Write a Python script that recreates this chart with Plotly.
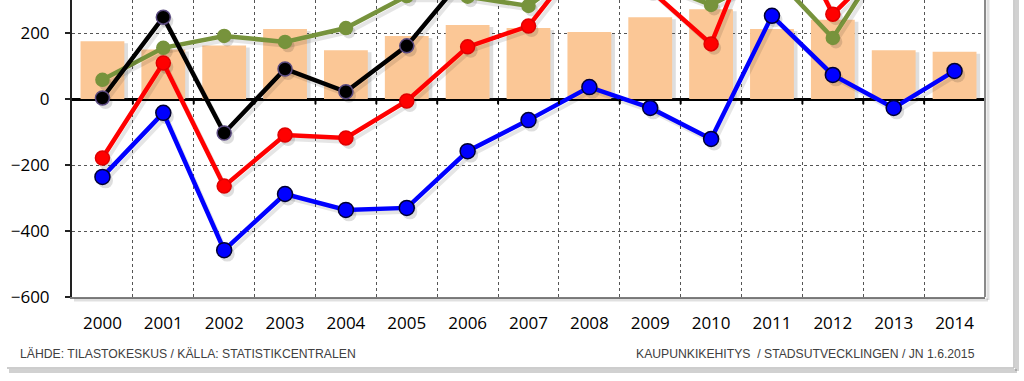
import plotly.graph_objects as go

years = list(range(2000, 2015))
bars = [175, 150, 162, 212, 148, 191, 224, 215, 203, 248, 272, 212, 240, 148, 143]
blue = [-236, -42, -458, -288, -336, -330, -158, -64, 36, -27, -121, 252, 73, -27, 85]
green = [58, 155, 191, 173, 215, 312, 310, 282, 420, 357, 285, 380, 185, 470, 450]
red = [-179, 109, -264, -109, -118, -6, 158, 221, 455, 330, 167, 620, 257, 440, 535]
black = [3, 248, -103, 91, 22, 161, 382, 436, 658, 578, 436, 832, 497, 588, 678]
ytick_vals = [-600, -400, -200, 0, 200]
footer_left = "LÄHDE: TILASTOKESKUS / KÄLLA: STATISTIKCENTRALEN"
footer_right = "KAUPUNKIKEHITYS \u00a0/ STADSUTVECKLINGEN / JN 1.6.2015"

W, H = 1024, 381
L, R, T, B = 72, 39, 0, 84
pw, ph = W - L - R, H - T - B

def px_x(p):
    return (p - L) / pw

def px_y(p):
    return (ph - (p - T)) / ph

fig = go.Figure()

# bar shadow
fig.add_trace(go.Bar(x=years, y=[v - 6 for v in bars], width=0.72, offset=-0.30,
                     marker=dict(color="rgba(90,90,90,0.20)", line=dict(width=0)),
                     hoverinfo="skip"))
fig.add_trace(go.Bar(x=years, y=bars, width=0.72, offset=-0.36,
                     marker=dict(color="#FBC796", line=dict(width=0))))

def add_series(vals, lcolor, mcolor, ocolor, msize):
    # soft shadow
    fig.add_trace(go.Scatter(x=[x + 0.05 for x in years], y=[v - 12 for v in vals],
                             mode="lines+markers", cliponaxis=True,
                             line=dict(color="rgba(0,0,0,0.10)", width=4),
                             marker=dict(size=msize, color="rgba(0,0,0,0.13)", line=dict(width=0)),
                             hoverinfo="skip"))
    fig.add_trace(go.Scatter(x=years, y=vals, mode="lines+markers", cliponaxis=True,
                             line=dict(color=lcolor, width=4.5),
                             marker=dict(size=msize, color=mcolor, line=dict(color=ocolor, width=1.5))))

add_series(green, "#77933C", "#77933C", "#77933C", 13)
add_series(black, "#000000", "#000000", "#5A4A80", 14)
add_series(red, "#FF0000", "#FF0000", "#E00000", 14)
add_series(blue, "#0000FF", "#0000FF", "#000033", 15)

shapes = []
# zero-line ticks at category boundaries
for k in range(len(years)):
    xb = years[k] + 0.5
    shapes.append(dict(type="line", xref="x", yref="y", x0=xb, x1=xb, y0=0, y1=-16,
                       line=dict(color="black", width=2)))
# plot border right + shadows
shapes.append(dict(type="line", xref="paper", yref="paper", x0=1, x1=1, y0=0, y1=1.05,
                   line=dict(color="#8a8a8a", width=2)))
shapes.append(dict(type="line", xref="paper", yref="paper", x0=px_x(988), x1=px_x(988),
                   y0=px_y(300), y1=1.05, line=dict(color="rgba(0,0,0,0.12)", width=3)))
shapes.append(dict(type="line", xref="paper", yref="paper", x0=px_x(74), x1=px_x(988),
                   y0=px_y(300), y1=px_y(300), line=dict(color="rgba(0,0,0,0.12)", width=3)))
# outer frame
shapes.append(dict(type="line", xref="paper", yref="paper", x0=px_x(1014), x1=px_x(1014),
                   y0=px_y(368), y1=1.05, line=dict(color="#bdbdbd", width=1.5)))
shapes.append(dict(type="line", xref="paper", yref="paper", x0=px_x(1017), x1=px_x(1017),
                   y0=px_y(371), y1=1.05, line=dict(color="rgba(0,0,0,0.18)", width=4)))
shapes.append(dict(type="line", xref="paper", yref="paper", x0=px_x(7), x1=px_x(1014),
                   y0=px_y(368), y1=px_y(368), line=dict(color="#bdbdbd", width=1.5)))
shapes.append(dict(type="line", xref="paper", yref="paper", x0=px_x(9), x1=px_x(1017),
                   y0=px_y(371), y1=px_y(371), line=dict(color="rgba(0,0,0,0.18)", width=4)))

annotations = [
    dict(text=footer_left, xref="paper", yref="paper", x=px_x(18), y=px_y(354),
         xanchor="left", yanchor="middle", showarrow=False,
         font=dict(family="Liberation Sans", size=12.2, color="#404040")),
    dict(text=footer_right, xref="paper", yref="paper", x=px_x(977), y=px_y(354),
         xanchor="right", yanchor="middle", showarrow=False,
         font=dict(family="Liberation Sans", size=12.2, color="#404040")),
]

fig.update_layout(
    width=W, height=H, margin=dict(l=L, r=R, t=T, b=B, pad=0, autoexpand=False),
    paper_bgcolor="white", plot_bgcolor="white", showlegend=False,
    barmode="overlay", shapes=shapes, annotations=annotations,
    font=dict(family="Open Sans", size=17, color="black"),
    xaxis=dict(range=[1999.5, 2014.5], tickvals=years, ticktext=[str(y) for y in years],
               showgrid=False, zeroline=False, ticks="", showline=True,
               linecolor="#7f7f7f", linewidth=2, ticklabelstandoff=10,
               tickfont=dict(family="Open Sans", size=17, color="black"),
               minor=dict(tickvals=[y + 0.5 for y in years[:-1]], showgrid=True,
                          gridcolor="#555555", griddash="dot", gridwidth=1, ticks="")),
    yaxis=dict(range=[-600, 300], tickvals=ytick_vals, showgrid=True,
               gridcolor="#555555", griddash="dot", gridwidth=1,
               zeroline=True, zerolinecolor="black", zerolinewidth=3,
               showline=True, linecolor="#222222", linewidth=2,
               ticks="outside", ticklen=5, tickcolor="#222222", tickwidth=2,
               ticklabelstandoff=12,
               tickfont=dict(family="Open Sans", size=17, color="black")),
)

fig.write_html("out.html", config={"displayModeBar": False},
               post_script="document.body.style.margin='0';document.body.style.overflow='hidden';")
